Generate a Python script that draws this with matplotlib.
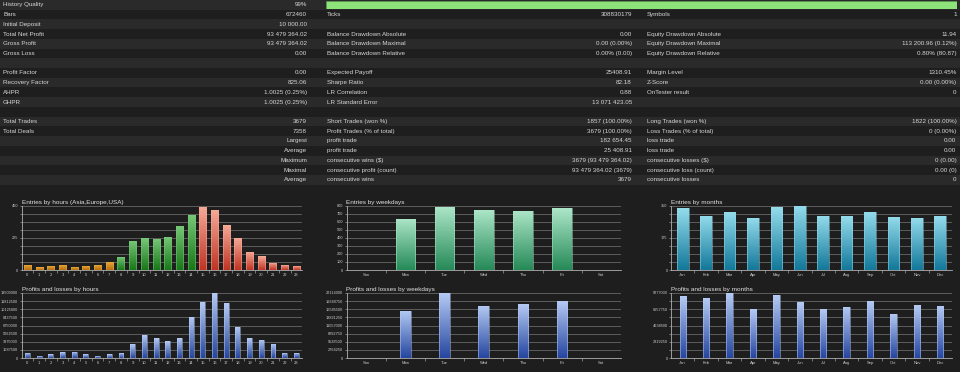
import matplotlib
matplotlib.use("Agg")
import matplotlib.pyplot as plt
import numpy as np
from matplotlib.colors import LinearSegmentedColormap
from matplotlib.patches import Rectangle

plt.rcParams['font.family'] = ['Liberation Sans', 'DejaVu Sans']

# ---- report table ----
left_labels = ["History Quality", "Bars", "Initial Deposit", "Total Net Profit", "Gross Profit", "Gross Loss", "",
               "Profit Factor", "Recovery Factor", "AHPR", "GHPR", "", "Total Trades", "Total Deals",
               "", "", "", "", ""]
left_values = ["99%", "672460", "10 000.00", "93 479 364.02", "93 479 364.02", "0.00", "",
               "0.00", "825.06", "1.0025 (0.25%)", "1.0025 (0.25%)", "", "3679", "7358",
               "Largest", "Average", "Maximum", "Maximal", "Average"]
mid_labels = ["", "Ticks", "", "Balance Drawdown Absolute", "Balance Drawdown Maximal", "Balance Drawdown Relative", "",
              "Expected Payoff", "Sharpe Ratio", "LR Correlation", "LR Standard Error", "",
              "Short Trades (won %)", "Profit Trades (% of total)", "profit trade", "profit trade",
              "consecutive wins ($)", "consecutive profit (count)", "consecutive wins"]
mid_values = ["", "308830179", "", "0.00", "0.00 (0.00%)", "0.00% (0.00)", "",
              "25408.91", "82.18", "0.88", "13 071 423.05", "",
              "1857 (100.00%)", "3679 (100.00%)", "182 654.45", "25 408.91",
              "3679 (93 479 364.02)", "93 479 364.02 (3679)", "3679"]
right_labels = ["", "Symbols", "", "Equity Drawdown Absolute", "Equity Drawdown Maximal", "Equity Drawdown Relative", "",
                "Margin Level", "Z-Score", "OnTester result", "", "",
                "Long Trades (won %)", "Loss Trades (% of total)", "loss trade", "loss trade",
                "consecutive losses ($)", "consecutive loss (count)", "consecutive losses"]
right_values = ["", "1", "", "11.94", "113 200.96 (0.12%)", "0.80% (80.87)", "",
                "1310.45%", "0.00 (0.00%)", "0", "", "",
                "1822 (100.00%)", "0 (0.00%)", "0.00", "0.00",
                "0 (0.00)", "0.00 (0)", "0"]
history_quality = 99

# ---- chart data ----
hours = [str(h) for h in range(24)]
hour_session = ["asia"] * 8 + ["europe"] * 7 + ["usa"] * 9
entries_hours = [35, 19, 28, 35, 21, 30, 35, 56, 91, 205, 221, 219, 233, 308, 385, 443,
                 420, 317, 226, 126, 96, 51, 35, 28]
profit_hours = [1040000, 420000, 760000, 1180000, 1310000, 830000, 480000, 830000, 1040000,
                2840000, 4770000, 4150000, 3530000, 4150000, 8580000, 11630000, 13490000,
                11420000, 6500000, 4150000, 3740000, 2910000, 1110000, 1040000]

weekdays = ["Sun", "Mon", "Tue", "Wed", "Thu", "Fri", "Sat"]
entries_weekdays = [0, 636, 790, 748, 736, 769, 0]
profit_weekdays = [0, 16000000, 22100000, 17800000, 18250000, 19300000, 0]

months = ["Jan", "Feb", "Mar", "Apr", "May", "Jun", "Jul", "Aug", "Sep", "Oct", "Nov", "Dec"]
entries_months = [336, 294, 318, 285, 341, 350, 294, 292, 318, 289, 285, 292]
profit_months = [8800000, 8560000, 9277000, 6990000, 8990000, 7990000, 6990000, 7280000,
                 8090000, 6280000, 7560000, 7470000]

BG = "#1e1e1e"
STRIPE = "#2a2a2a"
TXT = "#d6d6d6"

fig = plt.figure(figsize=(9.6, 3.72), dpi=100, facecolor=BG)

# background / table axes in pixel coordinates
bg = fig.add_axes([0, 0, 1, 1], zorder=0)
bg.set_xlim(0, 960)
bg.set_ylim(372, 0)
bg.axis("off")
ROW_H = 9.72
for i in range(len(left_labels)):
    if i % 2 == 0:
        bg.add_patch(Rectangle((0, i * ROW_H), 960, ROW_H, color=STRIPE, lw=0))
    yc = i * ROW_H + ROW_H / 2
    kw = dict(fontsize=4.5, color=TXT, va="center")
    bg.text(3, yc, left_labels[i], ha="left", **kw)
    bg.text(307, yc, left_values[i], ha="right", **kw)
    bg.text(327, yc, mid_labels[i], ha="left", **kw)
    bg.text(632, yc, mid_values[i], ha="right", **kw)
    bg.text(647, yc, right_labels[i], ha="left", **kw)
    bg.text(956.5, yc, right_values[i], ha="right", **kw)

# history quality bar
hq = fig.add_axes([326 / 960, 1 - 8.5 / 372, 631 / 960, 7.5 / 372], zorder=1)
hq.barh([0], [history_quality], height=1, color="#8de27a", edgecolor="#5a9a50", lw=0.5)
hq.set_xlim(0, 98.5)
hq.set_ylim(-0.5, 0.5)
hq.axis("off")


def grad_bars(ax, x, h, width, colors):
    bars = ax.bar(x, h, width, color="none", edgecolor="none", zorder=3)
    grad = np.linspace(0, 1, 64).reshape(-1, 1)
    for b, (top, bot) in zip(bars, colors):
        if b.get_height() <= 0:
            continue
        cmap = LinearSegmentedColormap.from_list("g", [bot, top])
        im = ax.imshow(grad, cmap=cmap, origin="lower", aspect="auto", zorder=2,
                       extent=[b.get_x(), b.get_x() + b.get_width(), 0, b.get_height()])
        im.set_clip_path(b)
        ax.add_patch(Rectangle((b.get_x(), 0), b.get_width(), b.get_height(),
                               fill=False, edgecolor=top, lw=0.5, alpha=0.7, zorder=4))


def setup(ax, labels, ymax, label_every, title):
    n = len(labels)
    ax.set_facecolor("none")
    ax.set_xlim(-0.5, n - 0.5)
    ax.set_ylim(0, ymax)
    yt = np.linspace(0, ymax, 9)
    ax.set_yticks(yt)
    ax.set_yticklabels([f"{v:.0f}" if i % label_every == 0 else "" for i, v in enumerate(yt)])
    ax.yaxis.grid(True, color="#666666", lw=0.6)
    ax.set_axisbelow(True)
    ax.set_xticks(range(n))
    ax.set_xticklabels(labels)
    ax.set_xticks(np.arange(0.5, n - 1, 1), minor=True)
    ax.tick_params(axis="x", which="major", length=0, labelsize=3.0, labelcolor="#cccccc", pad=2)
    ax.tick_params(axis="x", which="minor", length=2.5, width=0.5, color="#9a9a9a", direction="out")
    ax.tick_params(axis="y", length=1.5, width=0.5, color="#9a9a9a", labelsize=2.8,
                   labelcolor="#cccccc", pad=1)
    for s in ["top", "right"]:
        ax.spines[s].set_visible(False)
    for s in ["left", "bottom"]:
        ax.spines[s].set_color("#b0b0b0")
        ax.spines[s].set_linewidth(0.6)
    ax.set_title(title, loc="left", fontsize=4.6, color="#e2e2e2", pad=1.5)


top_b, top_h = (372 - 270) / 372, (270 - 205.7) / 372
bot_b, bot_h = (372 - 358) / 372, (358 - 293) / 372
cols = [(21.6, 302.2), (346.5, 621.0), (671.0, 952.0)]


def make_ax(col, b, h):
    l, r = cols[col]
    return fig.add_axes([l / 960, b, (r - l) / 960, h], zorder=2)


session_colors = {"asia": ("#e8aa3c", "#b8700e"),
                  "europe": ("#78c878", "#187818"),
                  "usa": ("#f6aa98", "#c03424")}

ax1 = make_ax(0, top_b, top_h)
grad_bars(ax1, range(24), entries_hours, 0.6, [session_colors[s] for s in hour_session])
setup(ax1, hours, 450, 4, "Entries by hours (Asia,Europe,USA)")

ax2 = make_ax(1, top_b, top_h)
grad_bars(ax2, range(7), entries_weekdays, 0.5, [("#ace6c8", "#268a58")] * 7)
setup(ax2, weekdays, 800, 1, "Entries by weekdays")

ax3 = make_ax(2, top_b, top_h)
grad_bars(ax3, range(12), entries_months, 0.5, [("#94dcec", "#13789a")] * 12)
setup(ax3, months, 350, 4, "Entries by months")

blue = ("#b4caf4", "#2646a0")
ax4 = make_ax(0, bot_b, bot_h)
grad_bars(ax4, range(24), profit_hours, 0.42, [blue] * 24)
setup(ax4, hours, 13500000, 1, "Profits and losses by hours")

ax5 = make_ax(1, bot_b, bot_h)
grad_bars(ax5, range(7), profit_weekdays, 0.27, [blue] * 7)
setup(ax5, weekdays, 22114000, 1, "Profits and losses by weekdays")

ax6 = make_ax(2, bot_b, bot_h)
grad_bars(ax6, range(12), profit_months, 0.27, [blue] * 12)
setup(ax6, months, 9277000, 2, "Profits and losses by months")

fig.savefig("out.png", dpi=100, facecolor=BG)
